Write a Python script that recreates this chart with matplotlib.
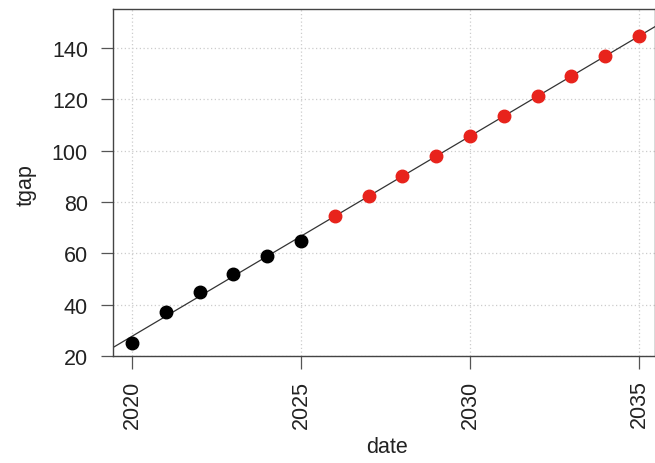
import numpy as np
import matplotlib
matplotlib.use("Agg")
import matplotlib.pyplot as plt

plt.rcParams['font.family'] = ['Liberation Sans', 'DejaVu Sans']

obs_years = [2020, 2021, 2022, 2023, 2024, 2025]
obs_tgap = [25.0, 37.0, 45.0, 52.0, 59.0, 65.0]
pred_years = [2026, 2027, 2028, 2029, 2030, 2031, 2032, 2033, 2034, 2035]
pred_tgap = [74.5, 82.3, 90.1, 97.9, 105.7, 113.5, 121.3, 129.1, 136.9, 144.7]
x_ticks = [2020, 2025, 2030, 2035]
y_ticks = [20, 40, 60, 80, 100, 120, 140]

fig = plt.figure(figsize=(6.55, 4.64), dpi=100)
ax = fig.add_axes([0.1725, 0.2306, 0.8275, 0.7478])

xlim = (2019.44, 2035.47)
ylim = (20, 155.2)
ax.set_xlim(*xlim)
ax.set_ylim(*ylim)

ax.grid(True, color='#cccccc', linestyle=(0, (1, 2)), linewidth=0.9)
ax.set_axisbelow(True)

slope, intercept = np.polyfit(obs_years, obs_tgap, 1)
lx = np.array(xlim)
ax.plot(lx, intercept + slope * lx, color='#333333', linewidth=0.9, zorder=2)

ax.plot(obs_years, obs_tgap, 'o', color='black', markersize=9, zorder=3)
ax.plot(pred_years, pred_tgap, 'o', color='#e8231c', markersize=9, zorder=3)

ax.set_xticks(x_ticks)
ax.set_xticklabels([str(v) for v in x_ticks], rotation=90, fontsize=15.5, color='#222222')
ax.set_yticks(y_ticks)
ax.set_yticklabels([str(v) for v in y_ticks], fontsize=15.5, color='#222222')
ax.tick_params(axis='both', length=9, width=0.9, color='#555555')
ax.tick_params(axis='y', pad=9)
ax.tick_params(axis='x', pad=8)

for s in ax.spines.values():
    s.set_color('#444444')
    s.set_linewidth(1.0)

ax.set_xlabel('date', fontsize=15.5, color='#222222')
ax.set_ylabel('tgap', fontsize=15.5, color='#222222')
ax.xaxis.set_label_coords((387 - 113) / 542, (357 - 437) / 347)
ax.yaxis.set_label_coords((37 - 113) / 542, (357 - 185) / 347)

fig.savefig('out.png', dpi=100)
